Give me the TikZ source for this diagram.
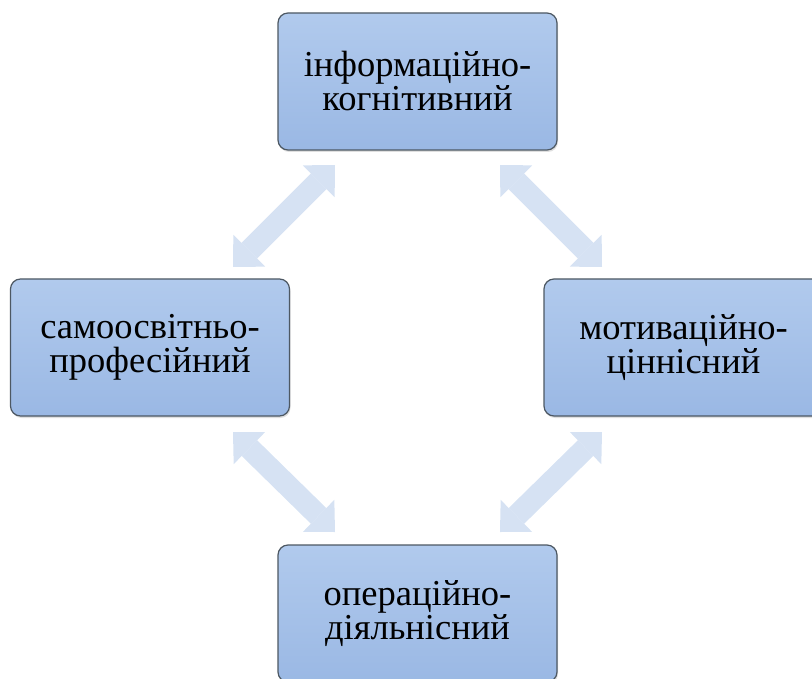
\documentclass[tikz,border=0pt]{standalone}
\usepackage{fontspec}
\setmainfont{Liberation Serif}
\usetikzlibrary{positioning,arrows.meta,shadows}

\definecolor{boxtop}{HTML}{B1CAED}
\definecolor{boxbottom}{HTML}{9AB8E4}
\definecolor{boxline}{HTML}{4D5863}
\definecolor{arrowfill}{HTML}{D6E2F3}

\begin{document}
\begin{tikzpicture}[x=1pt,y=-1pt,
                    >={Triangle[width=45pt,length=23pt,line width=0pt]}]
  \tikzstyle{component}=[draw=boxline,line width=1.2pt,rounded corners=10pt,
                         top color=boxtop,bottom color=boxbottom,
                         drop shadow={shadow xshift=1pt,shadow yshift=-2pt,opacity=0.25},
                         minimum width=279pt,minimum height=137pt,
                         align=center,font=\rmfamily\fontsize{36.5}{34}\selectfont]
  \tikzstyle{link}=[<->,draw=arrowfill,fill=arrowfill,line width=22pt]

  \useasboundingbox (0,0) rectangle (812,679);

  \node[component] (info)  at (417.5,81.5)  {інформаційно-\\когнітивний};
  \node[component] (self)  at (150,347.5)   {самоосвітньо-\\професійний};
  \node[component] (motiv) at (683.5,347.5) {мотиваційно-\\ціннісний};
  \node[component] (oper)  at (417.5,613.5) {операційно-\\діяльнісний};

  % arrow ends between the boxes
  \coordinate (a1) at (335,165);  \coordinate (a2) at (233,267);
  \coordinate (b1) at (500,165);  \coordinate (b2) at (602,267);
  \coordinate (c1) at (602,432);  \coordinate (c2) at (500,532);
  \coordinate (d1) at (233,432);  \coordinate (d2) at (335,532);

  \draw[link] (a1) -- (a2);
  \draw[link] (b1) -- (b2);
  \draw[link] (c1) -- (c2);
  \draw[link] (d1) -- (d2);
\end{tikzpicture}
\end{document}
